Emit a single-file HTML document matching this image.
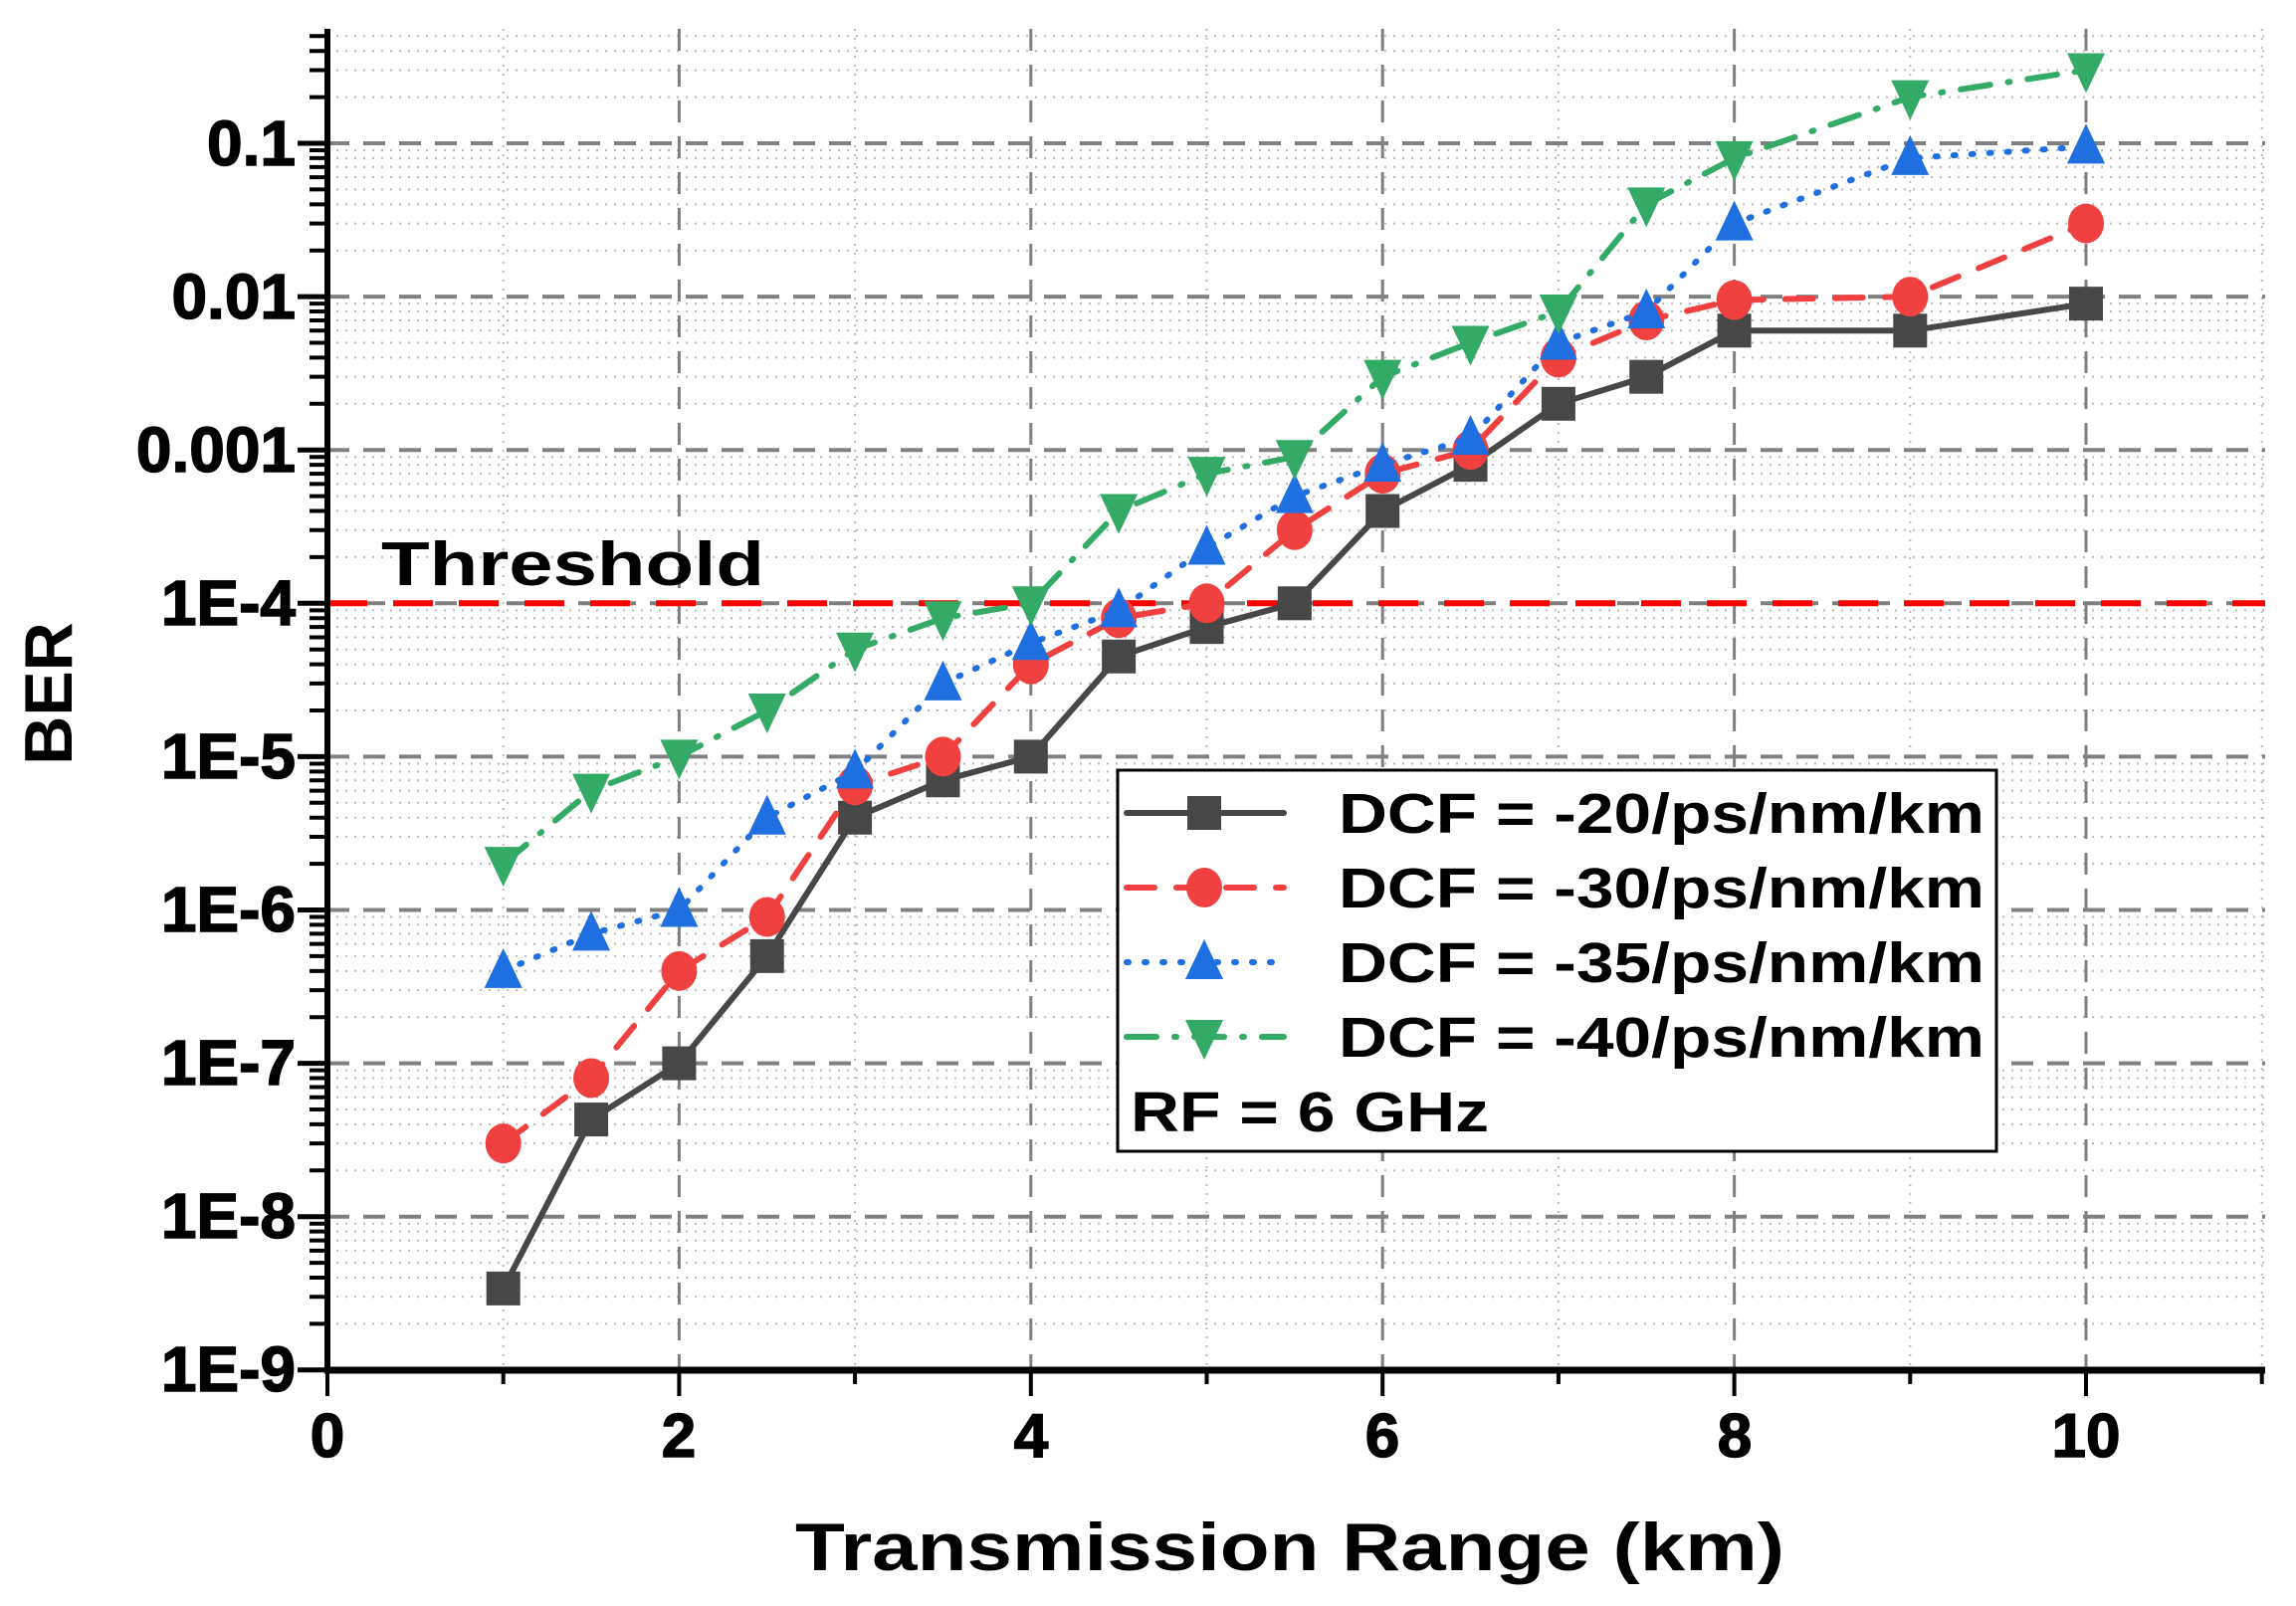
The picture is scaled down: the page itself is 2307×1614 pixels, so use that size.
<!DOCTYPE html>
<html><head><meta charset="utf-8"><style>
html,body{margin:0;padding:0;background:#fff;}
svg{display:block;font-family:"Liberation Sans",Arial,sans-serif;font-weight:bold;}
</style></head><body>
<svg id="s" width="2307" height="1614" viewBox="0 0 2307 1614" xmlns="http://www.w3.org/2000/svg">
<rect width="2307" height="1614" fill="#fff"/>
<g id="grid"></g>
<g id="series"></g>
<g id="axes"></g>
<g font-size="64" text-anchor="end" stroke="#000" stroke-width="1.5">
<text x="297" y="166">0.1</text>
<text x="297" y="320">0.01</text>
<text x="297" y="474">0.001</text>
<text x="297" y="628">1E-4</text>
<text x="297" y="782">1E-5</text>
<text x="297" y="936">1E-6</text>
<text x="297" y="1090">1E-7</text>
<text x="297" y="1244">1E-8</text>
<text x="297" y="1398">1E-9</text>
</g>
<g font-size="62" text-anchor="middle" stroke="#000" stroke-width="1.5">
<text x="329" y="1464">0</text>
<text x="682" y="1464">2</text>
<text x="1036" y="1464">4</text>
<text x="1389" y="1464">6</text>
<text x="1743" y="1464">8</text>
<text x="2096" y="1464">10</text>
</g>
<text x="1296" y="1578" font-size="68" text-anchor="middle" textLength="994" lengthAdjust="spacingAndGlyphs">Transmission Range (km)</text>
<text transform="translate(72,697) rotate(-90)" font-size="68" text-anchor="middle">BER</text>
<text x="383" y="588" font-size="62" textLength="385" lengthAdjust="spacingAndGlyphs">Threshold</text>
<g id="legend">
<rect x="1123" y="774" width="883" height="383" fill="#fff" stroke="#000" stroke-width="3"/>
<g font-size="57">
<text x="1345" y="837" textLength="649" lengthAdjust="spacingAndGlyphs">DCF = -20/ps/nm/km</text>
<text x="1345" y="912" textLength="649" lengthAdjust="spacingAndGlyphs">DCF = -30/ps/nm/km</text>
<text x="1345" y="987" textLength="649" lengthAdjust="spacingAndGlyphs">DCF = -35/ps/nm/km</text>
<text x="1345" y="1062" textLength="649" lengthAdjust="spacingAndGlyphs">DCF = -40/ps/nm/km</text>
<text x="1136" y="1137" textLength="360" lengthAdjust="spacingAndGlyphs">RF = 6 GHz</text>
</g>
</g>
</svg>
<script>
var NS="http://www.w3.org/2000/svg";
function el(p,t,a){var e=document.createElementNS(NS,t);for(var k in a)e.setAttribute(k,a[k]);p.appendChild(e);return e;}
var X0=329,KX=176.7,Y1=144,DEC=154.1,XR=2276,YT=29,YB=1377;
function X(v){return X0+KX*v;}
function Y(v){return Y1+(-1-Math.log10(v))*DEC;}
var g=document.getElementById('grid'),ax=document.getElementById('axes'),se=document.getElementById('series');
for(var d=-9;d<=-1;d++){for(var m=2;m<=9;m++){var y=Y(m*Math.pow(10,d));if(y<YT)continue;
 el(g,'line',{x1:X0,x2:XR,y1:y,y2:y,stroke:'#bbb','stroke-width':2,'stroke-dasharray':'2 7'});}}
for(var i=1;i<=11;i+=2){el(g,'line',{x1:X(i),x2:X(i),y1:YT,y2:YB,stroke:'#bbb','stroke-width':2,'stroke-dasharray':'2 7'});}
for(var d=-9;d<=-1;d++){var y=Y(Math.pow(10,d));el(g,'line',{x1:X0,x2:XR,y1:y,y2:y,stroke:'#808080','stroke-width':4,'stroke-dasharray':'22 14'});}
for(var i=2;i<=10;i+=2){el(g,'line',{x1:X(i),x2:X(i),y1:YT,y2:YB,stroke:'#808080','stroke-width':3,'stroke-dasharray':'22 14'});}
el(g,'line',{x1:X0,x2:XR,y1:Y(1e-4),y2:Y(1e-4),stroke:'#ff0000','stroke-width':6,'stroke-dasharray':'40 26'});
el(ax,'line',{x1:X0,x2:X0,y1:YT,y2:YB+3,stroke:'#000','stroke-width':6});
el(ax,'line',{x1:X0-3,x2:XR,y1:YB,y2:YB,stroke:'#000','stroke-width':7});
for(var d=-9;d<=-1;d++){var y=Y(Math.pow(10,d));el(ax,'line',{x1:X0-30,x2:X0,y1:y,y2:y,stroke:'#000','stroke-width':5});
 for(var m=2;m<=9;m++){var y2=Y(m*Math.pow(10,d));if(y2<YT)continue;el(ax,'line',{x1:X0-18,x2:X0,y1:y2,y2:y2,stroke:'#000','stroke-width':4});}}
for(var i=0;i<=11;i++){el(ax,'line',{x1:X(i),x2:X(i),y1:YB,y2:YB+(i%2?14:26),stroke:'#000','stroke-width':4});}
var xs=[1,1.5,2,2.5,3,3.5,4,4.5,5,5.5,6,6.5,7,7.5,8,9,10];
var S=[
{c:'#474747',d:'',m:'sq',v:[3.4e-9,4.3e-8,1e-7,5e-7,4e-6,7e-6,1e-5,4.5e-5,7e-5,1e-4,4e-4,8e-4,2e-3,3e-3,6e-3,6e-3,9e-3]},
{c:'#f04040',d:'28 22',m:'ci',v:[3e-8,8e-8,4e-7,9e-7,6.5e-6,1e-5,4e-5,8e-5,1e-4,3e-4,7e-4,1e-3,4e-3,7e-3,9.5e-3,1e-2,3e-2]},
{c:'#1f6fe0',d:'2 16',m:'up',v:[4e-7,7e-7,1e-6,4e-6,8e-6,3e-5,5.5e-5,9e-5,2.3e-4,5e-4,8e-4,1.2e-3,5e-3,8e-3,3e-2,8e-2,9.5e-2]},
{c:'#33aa66',d:'30 18 2 18',m:'dn',v:[2e-6,6e-6,1e-5,2e-5,5e-5,8e-5,1e-4,4e-4,7e-4,9e-4,3e-3,5e-3,8e-3,4e-2,8e-2,2e-1,3e-1]}];
function mk(p,t,x,y,c){var r=19;
 if(t=='sq')el(p,'rect',{x:x-r+2,y:y-r+2,width:2*r-4,height:2*r-4,fill:c});
 else if(t=='ci')el(p,'ellipse',{cx:x,cy:y,rx:r-1,ry:r+1,fill:c});
 else if(t=='up')el(p,'polygon',{points:(x)+','+(y-r-4)+' '+(x-r)+','+(y+r-2)+' '+(x+r)+','+(y+r-2),fill:c});
 else el(p,'polygon',{points:(x)+','+(y+r+4)+' '+(x-r)+','+(y-r+2)+' '+(x+r)+','+(y-r+2),fill:c});}
S.forEach(function(s){var pts=xs.map(function(x,i){return X(x)+','+Y(s.v[i]);}).join(' ');
 var a={points:pts,fill:'none',stroke:s.c,'stroke-width':6,'stroke-linecap':'round','stroke-linejoin':'round'};if(s.d)a['stroke-dasharray']=s.d;
 el(se,'polyline',a);xs.forEach(function(x,i){mk(se,s.m,X(x),Y(s.v[i]),s.c);});});
var lg=document.getElementById('legend');
S.forEach(function(s,i){var y=817+75*i;var a={x1:1132,x2:1290,y1:y,y2:y,stroke:s.c,'stroke-width':6,'stroke-linecap':'round'};if(s.d)a['stroke-dasharray']=s.d;
 el(lg,'line',a);mk(lg,s.m,1210,y,s.c);});
</script>
</body></html>
